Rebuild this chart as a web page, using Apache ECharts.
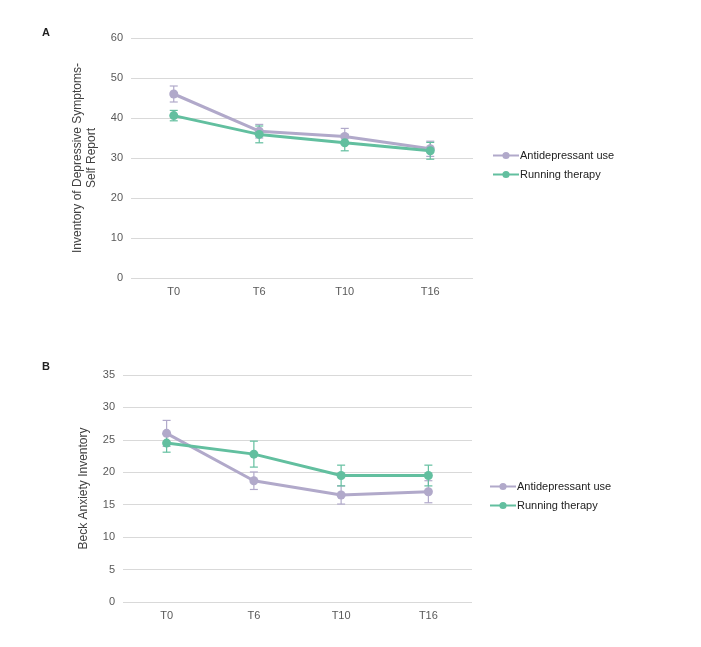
<!DOCTYPE html>
<html><head><meta charset="utf-8">
<script src="https://cdn.jsdelivr.net/npm/echarts@6/dist/echarts.min.js"></script>
<style>html,body{margin:0;padding:0;background:#fff}#c{width:701px;height:647px}</style>
</head><body><div id="c"></div>
<script>
const categories = ['T0', 'T6', 'T10', 'T16'];
const seriesNames = ['Antidepressant use', 'Running therapy'];
// Panel A: IDS-SR
const idsAntidep = [46.0, 36.7, 35.4, 32.3];
const idsAntidepErr = [2.0, 1.7, 2.0, 1.9];
const idsRunning = [40.6, 35.9, 33.8, 31.8];
const idsRunningErr = [1.3, 2.1, 2.0, 2.1];
// Panel B: BAI
const baiAntidep = [26.0, 18.7, 16.5, 17.0];
const baiAntidepErr = [2.0, 1.35, 1.4, 1.7];
const baiRunning = [24.5, 22.8, 19.5, 19.5];
const baiRunningErr = [1.4, 2.0, 1.6, 1.6];
const yTicksA = {min: 0, max: 60, interval: 10};
const yTicksB = {min: 0, max: 35, interval: 5};

const colAnti = '#b1a9ca';
const colRun = '#62bf9f';
const font = 'Liberation Sans, Arial, sans-serif';

function errSeries(vals, errs, color, xi, yi) {
  return {
    type: 'custom', xAxisIndex: xi, yAxisIndex: yi, z: 1,
    data: vals.map((v, i) => [i, v - errs[i], v + errs[i]]),
    renderItem: function (params, api) {
      const lo = api.coord([api.value(0), api.value(1)]);
      const hi = api.coord([api.value(0), api.value(2)]);
      const w = 4;
      const st = {stroke: color, lineWidth: 1.2};
      return {type: 'group', children: [
        {type: 'line', shape: {x1: lo[0], y1: lo[1], x2: hi[0], y2: hi[1]}, style: st},
        {type: 'line', shape: {x1: lo[0]-w, y1: lo[1], x2: lo[0]+w, y2: lo[1]}, style: st},
        {type: 'line', shape: {x1: hi[0]-w, y1: hi[1], x2: hi[0]+w, y2: hi[1]}, style: st}
      ]};
    }
  };
}
function lineSeries(name, vals, color, xi, yi) {
  return {
    name: name, type: 'line', xAxisIndex: xi, yAxisIndex: yi, z: 3,
    data: vals, symbol: 'circle', symbolSize: 9,
    lineStyle: {width: 3, color: color}, itemStyle: {color: color}
  };
}
const axisLabel = {color: '#595959', fontSize: 11, fontFamily: font};
function xAx(gi) {
  return {type: 'category', gridIndex: gi, data: categories, boundaryGap: true,
    axisLine: {show: false}, axisTick: {show: false},
    axisLabel: Object.assign({margin: 8}, axisLabel)};
}
function yAx(gi, t, name) {
  return {type: 'value', gridIndex: gi, min: t.min, max: t.max, interval: t.interval,
    name: name, nameLocation: 'middle', nameGap: 32, nameRotate: 90,
    nameTextStyle: {color: '#404040', fontSize: 12, fontFamily: font, lineHeight: 14},
    axisLine: {show: false}, axisTick: {show: false},
    axisLabel: Object.assign({margin: 8}, axisLabel),
    splitLine: {lineStyle: {color: '#d9d9d9', width: 1}}};
}
function legendAt(left, top) {
  return {orient: 'vertical', left: left, top: top, itemGap: 8, itemWidth: 26, itemHeight: 9,
    data: seriesNames.map(n => ({name: n})),
    textStyle: {color: '#222', fontSize: 11, fontFamily: font, padding: [0,0,0,-4]}};
}
const chart = echarts.init(document.getElementById('c'));
chart.setOption({
  animation: false,
  backgroundColor: '#fff',
  title: [
    {text: 'A', left: 37, top: 22, textStyle: {fontSize: 11, fontWeight: 'bold', color: '#222', fontFamily: font}},
    {text: 'B', left: 37, top: 356, textStyle: {fontSize: 11, fontWeight: 'bold', color: '#222', fontFamily: font}}
  ],
  legend: [legendAt(487, 145), legendAt(484, 476)],
  grid: [
    {left: 131, width: 342, top: 38, height: 240},
    {left: 123, width: 349, top: 375, height: 227}
  ],
  xAxis: [xAx(0), xAx(1)],
  yAxis: [yAx(0, yTicksA, 'Inventory of Depressive Symptoms-\nSelf Report'), yAx(1, yTicksB, 'Beck Anxiety Inventory')],
  series: [
    errSeries(idsAntidep, idsAntidepErr, colAnti, 0, 0),
    errSeries(idsRunning, idsRunningErr, colRun, 0, 0),
    lineSeries(seriesNames[0], idsAntidep, colAnti, 0, 0),
    lineSeries(seriesNames[1], idsRunning, colRun, 0, 0),
    errSeries(baiAntidep, baiAntidepErr, colAnti, 1, 1),
    errSeries(baiRunning, baiRunningErr, colRun, 1, 1),
    lineSeries(seriesNames[0], baiAntidep, colAnti, 1, 1),
    lineSeries(seriesNames[1], baiRunning, colRun, 1, 1)
  ]
});
</script></body></html>
